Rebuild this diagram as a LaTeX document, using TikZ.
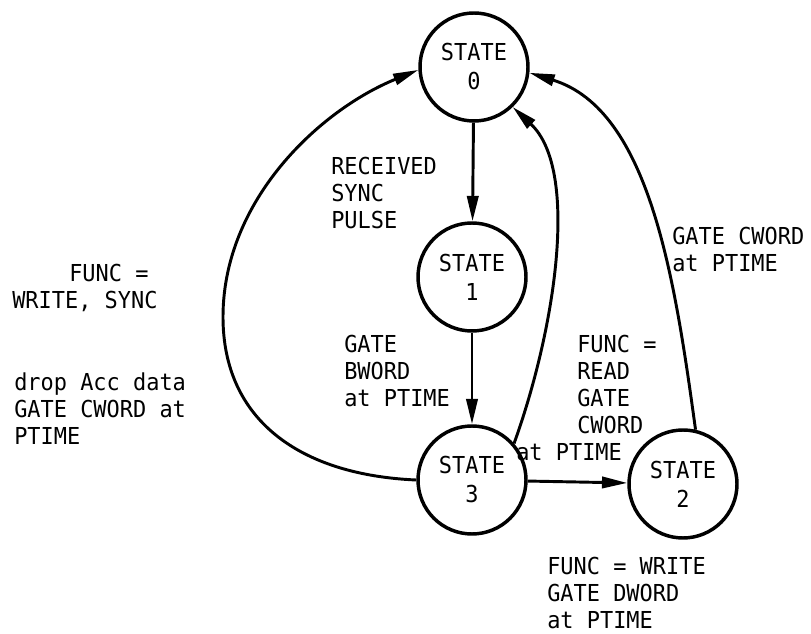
\documentclass[tikz,border=0pt]{standalone}
\usepackage{fontspec}
\setmonofont[FakeStretch=0.94]{DejaVu Sans Mono}
\usetikzlibrary{arrows.meta}
\tikzstyle{state}=[circle,draw,line width=2.6pt,minimum size=81pt,inner sep=0pt,align=center]
\tikzstyle{trans}=[line width=2.2pt,->,>={Triangle[length=19pt,width=8.5pt]}]
\tikzstyle{lbl}=[anchor=north west,inner sep=0pt,align=left]

\begin{document}
\begin{tikzpicture}[x=0.75pt,y=-0.75pt,font=\ttfamily\fontsize{17.5pt}{20.25pt}\selectfont]
    \useasboundingbox (0,0) rectangle (811,634);

    % states
    \node [state] (s0) at (474,67) {STATE\\[1.5pt]0};
    \node [state] (s1) at (472,277) {STATE\\[1.5pt]1};
    \node [state] (s3) at (472,480) {STATE\\[1.5pt]3};
    \node [state] (s2) at (683,484) {STATE\\[1.5pt]2};
    \coordinate (far) at (223,317);

    % transitions
    \draw [trans] (s0) -- (s1);
    \draw [trans] (s1) -- (s3);
    \draw [trans] (s3) -- (s2);
    \draw [trans] (s3.41) .. controls (555,330) and (580,170) .. (s0.-46);
    \draw [trans] (s2.77) .. controls (675,280) and (650,110) .. (s0.-6);
    \draw [trans] (s3.180) .. controls (300,475) and (223,420) .. (far)
        .. controls (223,200) and (320,110) .. (s0.183);

    % conditions
    \node [lbl] (recv) at (331,157) {RECEIVED\\SYNC\\PULSE};
    \node [lbl] (wsync) at (12,264) {\hspace*{42.75pt}FUNC =\\WRITE, SYNC};
    \node [lbl] (drop) at (14,373) {drop Acc data\\GATE CWORD at\\PTIME};
    \node [lbl] (bword) at (344,335) {GATE\\BWORD\\at PTIME};
    \node [lbl] (read) at (577,335) {FUNC =\\READ\\GATE\\CWORD\\\hspace*{-45.75pt}at PTIME};
    \node [lbl] (cword) at (672,227) {GATE CWORD\\at PTIME};
    \node [lbl] (dword) at (547,557) {FUNC = WRITE\\GATE DWORD\\at PTIME};
\end{tikzpicture}
\end{document}
